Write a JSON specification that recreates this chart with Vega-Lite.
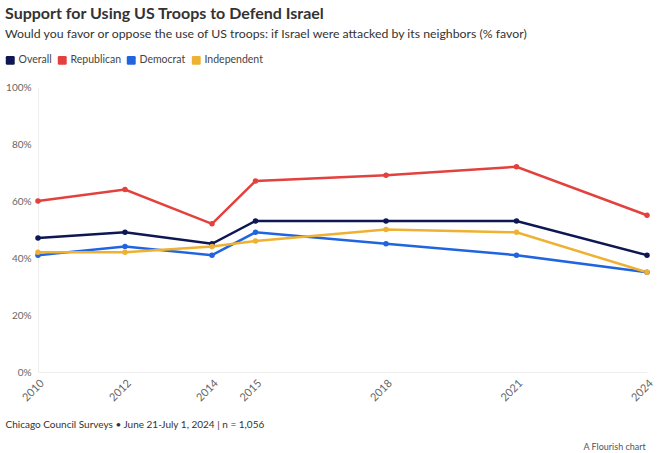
{
  "$schema": "https://vega.github.io/schema/vega-lite/v6.json",
  "width": 609,
  "height": 285,
  "autosize": {"type": "none"},
  "padding": {"left": 38, "top": 87, "right": 17, "bottom": 81},
  "background": "white",
  "config": {
    "view": {"stroke": null},
    "font": "Lato"
  },
  "title": {
    "text": "Support for Using US Troops to Defend Israel",
    "subtitle": "Would you favor or oppose the use of US troops: if Israel were attacked by its neighbors (% favor)",
    "anchor": "start",
    "frame": "group",
    "dx": -33,
    "font": "Lato",
    "fontSize": 16,
    "fontWeight": "bold",
    "color": "#333333",
    "subtitleFont": "Lato",
    "subtitleFontSize": 12.3,
    "subtitleColor": "#333333",
    "subtitlePadding": 6,
    "offset": 40,
    "dy": 25
  },
  "data": {
    "values": [
      {"year": 2010, "group": "Overall", "value": 47},
      {"year": 2012, "group": "Overall", "value": 49},
      {"year": 2014, "group": "Overall", "value": 45},
      {"year": 2015, "group": "Overall", "value": 53},
      {"year": 2018, "group": "Overall", "value": 53},
      {"year": 2021, "group": "Overall", "value": 53},
      {"year": 2024, "group": "Overall", "value": 41},
      {"year": 2010, "group": "Republican", "value": 60},
      {"year": 2012, "group": "Republican", "value": 64},
      {"year": 2014, "group": "Republican", "value": 52},
      {"year": 2015, "group": "Republican", "value": 67},
      {"year": 2018, "group": "Republican", "value": 69},
      {"year": 2021, "group": "Republican", "value": 72},
      {"year": 2024, "group": "Republican", "value": 55},
      {"year": 2010, "group": "Democrat", "value": 41},
      {"year": 2012, "group": "Democrat", "value": 44},
      {"year": 2014, "group": "Democrat", "value": 41},
      {"year": 2015, "group": "Democrat", "value": 49},
      {"year": 2018, "group": "Democrat", "value": 45},
      {"year": 2021, "group": "Democrat", "value": 41},
      {"year": 2024, "group": "Democrat", "value": 35},
      {"year": 2010, "group": "Independent", "value": 42},
      {"year": 2012, "group": "Independent", "value": 42},
      {"year": 2014, "group": "Independent", "value": 44},
      {"year": 2015, "group": "Independent", "value": 46},
      {"year": 2018, "group": "Independent", "value": 50},
      {"year": 2021, "group": "Independent", "value": 49},
      {"year": 2024, "group": "Independent", "value": 35}
    ]
  },
  "encoding": {
    "x": {
      "field": "year",
      "type": "quantitative",
      "scale": {"domain": [2010, 2024], "nice": false, "zero": false},
      "axis": {
        "values": [2010, 2012, 2014, 2015, 2018, 2021, 2024],
        "format": "d",
        "labelAngle": -45,
        "labelAlign": "right",
        "labelBaseline": "top",
        "labelPadding": 5,
        "labelFontSize": 11,
        "labelColor": "#666666",
        "labelFont": "Lato",
        "ticks": false,
        "grid": false,
        "domainColor": "#eeeeee",
        "labelFlush": false,
        "labelOverlap": false,
        "title": "Chicago Council Surveys • June 21-July 1, 2024 | n = 1,056",
        "titleAnchor": "start",
        "titleAlign": "left",
        "titleX": -33,
        "titleY": 52,
        "titleBaseline": "middle",
        "titleFont": "Lato",
        "titleFontSize": 10,
        "titleFontWeight": "normal",
        "titleColor": "#333333"
      }
    },
    "y": {
      "field": "value",
      "type": "quantitative",
      "scale": {"domain": [0, 100], "nice": false},
      "axis": {
        "values": [0, 20, 40, 60, 80, 100],
        "labelExpr": "datum.value + '%'",
        "labelFontSize": 10,
        "labelColor": "#666666",
        "labelFont": "Lato",
        "labelPadding": 7,
        "ticks": false,
        "grid": false,
        "domainColor": "#eeeeee",
        "title": "A Flourish chart",
        "titleAngle": 0,
        "titleAlign": "left",
        "titleBaseline": "middle",
        "titleX": 545,
        "titleY": 359,
        "titleFont": "Lato",
        "titleFontSize": 9,
        "titleFontWeight": "normal",
        "titleColor": "#555555"
      }
    },
    "color": {
      "field": "group",
      "type": "nominal",
      "sort": ["Overall", "Republican", "Democrat", "Independent"],
      "scale": {
        "domain": ["Overall", "Republican", "Democrat", "Independent"],
        "range": ["#0e1653", "#e3413d", "#2064e0", "#efb132"]
      },
      "legend": {
        "orient": "none",
        "legendX": -33,
        "legendY": -32,
        "direction": "horizontal",
        "title": null,
        "symbolType": "M-0.7,-1 L0.7,-1 Q1,-1 1,-0.7 L1,0.7 Q1,1 0.7,1 L-0.7,1 Q-1,1 -1,0.7 L-1,-0.7 Q-1,-1 -0.7,-1 Z",
        "symbolSize": 80,
        "symbolStrokeWidth": 0,
        "symbolOpacity": 1,
        "labelFontSize": 10.5,
        "labelColor": "#444444",
        "labelFont": "Lato",
        "labelOffset": 3,
        "columnPadding": 5
      }
    }
  },
  "layer": [
    {"mark": {"type": "line", "strokeWidth": 2.5}},
    {"mark": {"type": "point", "filled": true, "size": 30, "opacity": 1}}
  ]
}
